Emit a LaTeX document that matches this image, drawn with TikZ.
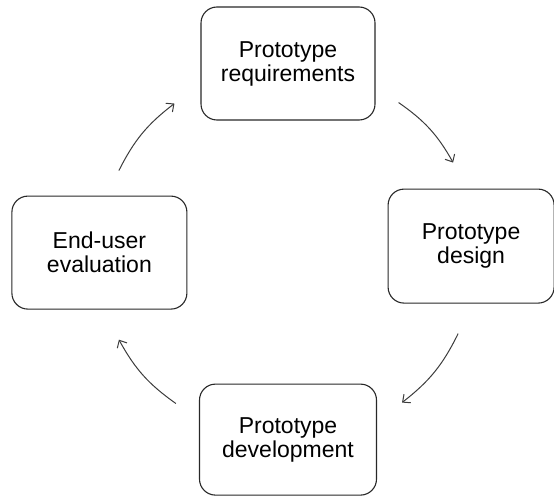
\documentclass[tikz,border=0pt]{standalone}
\usepackage{fontspec}
\setmainfont{Liberation Sans}
\usetikzlibrary{arrows.meta, positioning}
\definecolor{Contour}{RGB}{40,40,40}
\definecolor{Fleche}{RGB}{60,60,60}
\tikzset{etape/.style={rectangle, rounded corners=16pt,
  draw=Contour, fill=white, line width=1.1pt,
  align=center, minimum width=175pt, minimum height=113pt,
  font=\fontsize{23}{24}\selectfont}}
\tikzset{fl/.style={-{Straight Barb[length=6pt, width=11pt]}, draw=Fleche, line width=1pt}}

\begin{document}
\begin{tikzpicture}
\useasboundingbox (0,0) rectangle (554pt,-497pt);
\node[etape, minimum width=174pt] (req) at (288pt,-63.5pt) {Prototype\\requirements};
\node[etape, minimum width=166pt, minimum height=114pt, below right=68pt and 12pt of req] (des) {Prototype\\design};
\node[etape, minimum width=177pt, minimum height=111pt, below=263pt of req] (dev) {Prototype\\development};
\node[etape, below left=75pt and 13pt of req] (eval) {End-user\\evaluation};
\draw[fl] ([shift={(23pt,18pt)}]req.south east) to[bend left=13] ([shift={(-18pt,26pt)}]des.north);
\draw[fl] ([shift={(-13pt,-30pt)}]des.south) to[bend left=13] ([shift={(25pt,-19pt)}]dev.north east);
\draw[fl] ([shift={(-23pt,-20pt)}]dev.north west) to[bend left=13] ([shift={(19.5pt,-30pt)}]eval.south);
\draw[fl] ([shift={(19.5pt,25pt)}]eval.north) to[bend left=13] ([shift={(-26pt,17pt)}]req.south west);
\end{tikzpicture}
\end{document}
